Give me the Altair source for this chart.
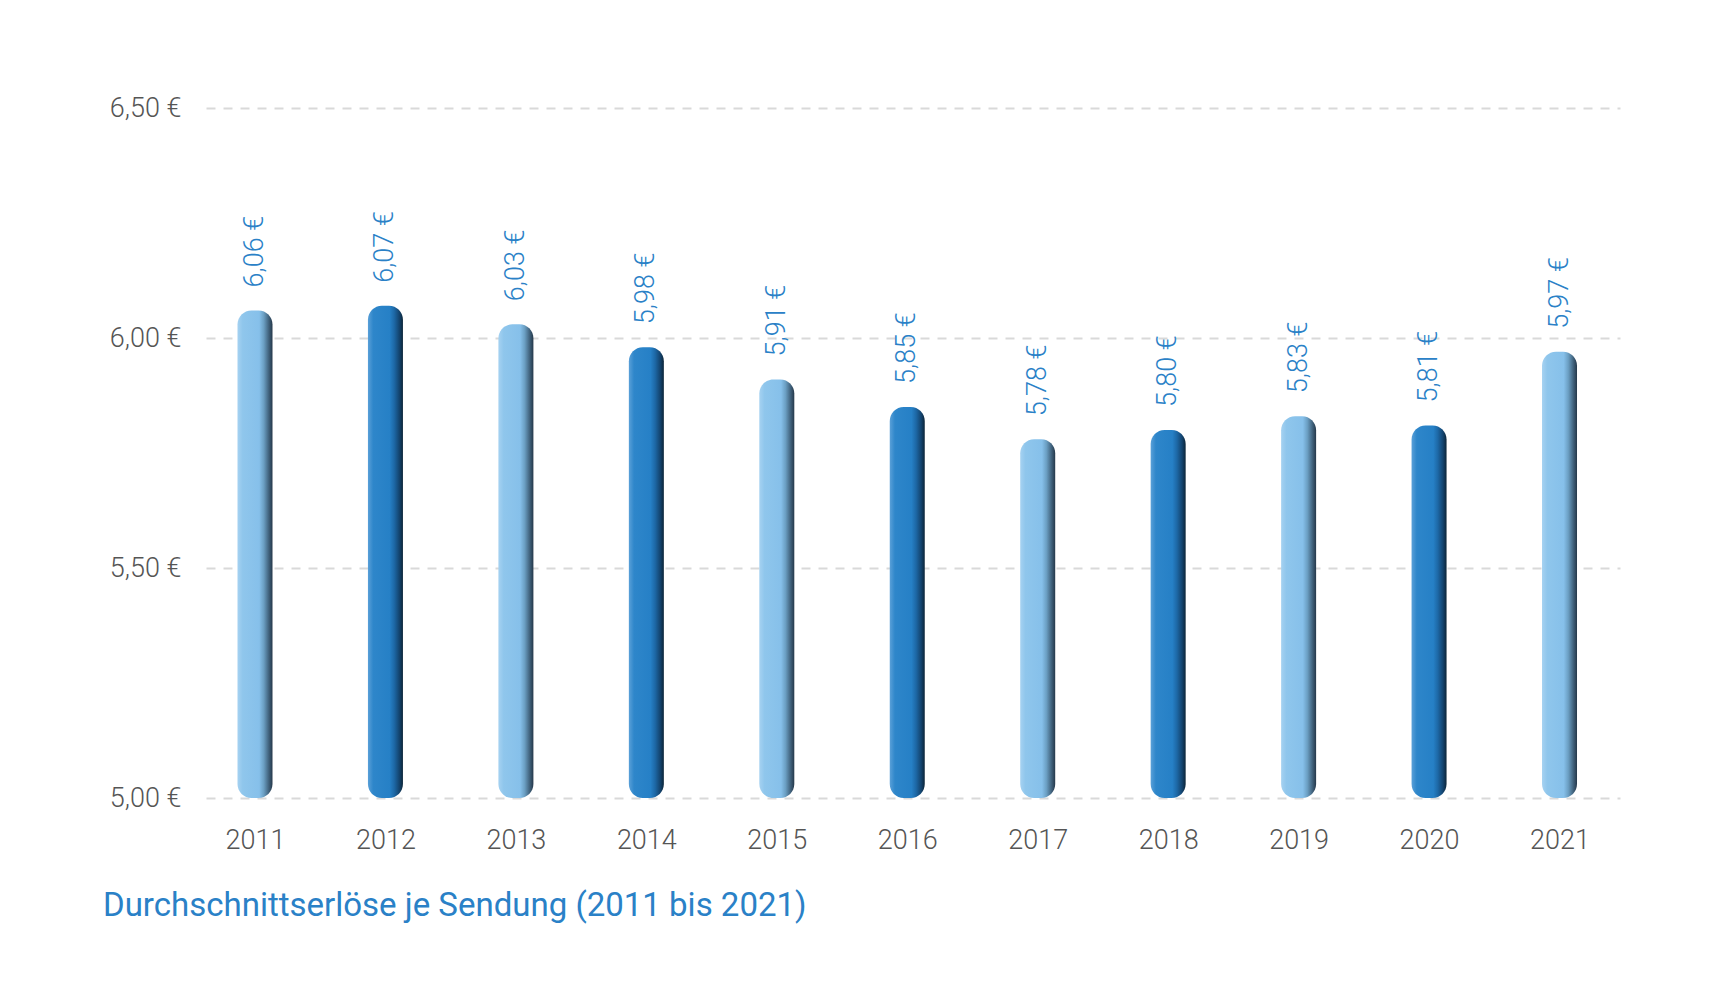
import altair as alt
import pandas as pd

years = ["2011", "2012", "2013", "2014", "2015", "2016", "2017", "2018", "2019", "2020", "2021"]
values = [6.06, 6.07, 6.03, 5.98, 5.91, 5.85, 5.78, 5.80, 5.83, 5.81, 5.97]
shade = ["hell", "dunkel", "hell", "dunkel", "hell", "dunkel", "hell", "dunkel", "hell", "dunkel", "hell"]
y_ticks = [5.0, 5.5, 6.0, 6.5]
title_text = "Durchschnittserlöse je Sendung (2011 bis 2021)"

df = pd.DataFrame({"Jahr": years, "Wert": values, "Ton": shade})

FONT = "Roboto"
BLUE = "#2a81c7"
GREY = "#555555"

light_grad = alt.Gradient(
    gradient="linear", x1=0, x2=1, y1=0, y2=0,
    stops=[
        alt.GradientStop(offset=0.0, color="#a6d2f1"),
        alt.GradientStop(offset=0.15, color="#8fc6ec"),
        alt.GradientStop(offset=0.62, color="#86c0ea"),
        alt.GradientStop(offset=0.75, color="#6b9fc3"),
        alt.GradientStop(offset=0.9, color="#3f607a"),
        alt.GradientStop(offset=1.0, color="#25384a"),
    ],
)
dark_grad = alt.Gradient(
    gradient="linear", x1=0, x2=1, y1=0, y2=0,
    stops=[
        alt.GradientStop(offset=0.0, color="#5aa0d8"),
        alt.GradientStop(offset=0.15, color="#2e86ca"),
        alt.GradientStop(offset=0.62, color="#2680c6"),
        alt.GradientStop(offset=0.75, color="#1d68a6"),
        alt.GradientStop(offset=0.9, color="#13436d"),
        alt.GradientStop(offset=1.0, color="#0c2538"),
    ],
)

x_enc = alt.X(
    "Jahr:O",
    scale=alt.Scale(type="point", padding=0.4196, align=0.4475),
    axis=alt.Axis(
        title=None, labelAngle=0, domain=False, ticks=False,
        labelFont=FONT, labelFontSize=27, labelFontWeight=300, labelColor=GREY,
        labelPadding=29, labelBaseline="top",
    ),
)
y_enc = alt.Y(
    "Wert:Q",
    scale=alt.Scale(domain=[5.0, 6.5], nice=False, zero=False),
    axis=alt.Axis(
        title=None, values=y_ticks, domain=False, ticks=False,
        labelFont=FONT, labelFontSize=27, labelFontWeight=300, labelColor=GREY,
        labelPadding=25,
        labelExpr="replace(format(datum.value, '.2f'), '.', ',') + ' €'",
        grid=True, gridColor="#d9d9d9", gridWidth=2, gridDash=[9, 8],
    ),
)

base = alt.Chart(df)

bars_light = base.transform_filter(alt.datum.Ton == "hell").mark_bar(
    size=35, cornerRadius=14, fill=light_grad
).encode(x=x_enc, y=y_enc, y2=alt.datum(5.0))

bars_dark = base.transform_filter(alt.datum.Ton == "dunkel").mark_bar(
    size=35, cornerRadius=14, fill=dark_grad
).encode(x=x_enc, y=y_enc, y2=alt.datum(5.0))

labels = base.transform_calculate(
    label="replace(format(datum.Wert, '.2f'), '.', ',') + ' €'"
).mark_text(
    angle=270, align="left", baseline="middle", dx=23,
    font=FONT, fontSize=27, fontWeight=300, color=BLUE,
).encode(x=x_enc, y=y_enc, text="label:N")

chart = alt.layer(bars_light, bars_dark, labels).properties(
    width=1414,
    height=690,
    title=alt.TitleParams(
        text=title_text, orient="bottom", anchor="start", frame="group",
        font=FONT, fontSize=33, fontWeight="normal", color=BLUE,
        dx=-103, offset=37,
    ),
    autosize=alt.AutoSizeParams(type="none"),
    padding={"left": 198, "top": 100, "right": 90, "bottom": 150},
).configure_view(stroke=None)

chart.save("out.html", embed_options={"renderer": "svg", "actions": False})
